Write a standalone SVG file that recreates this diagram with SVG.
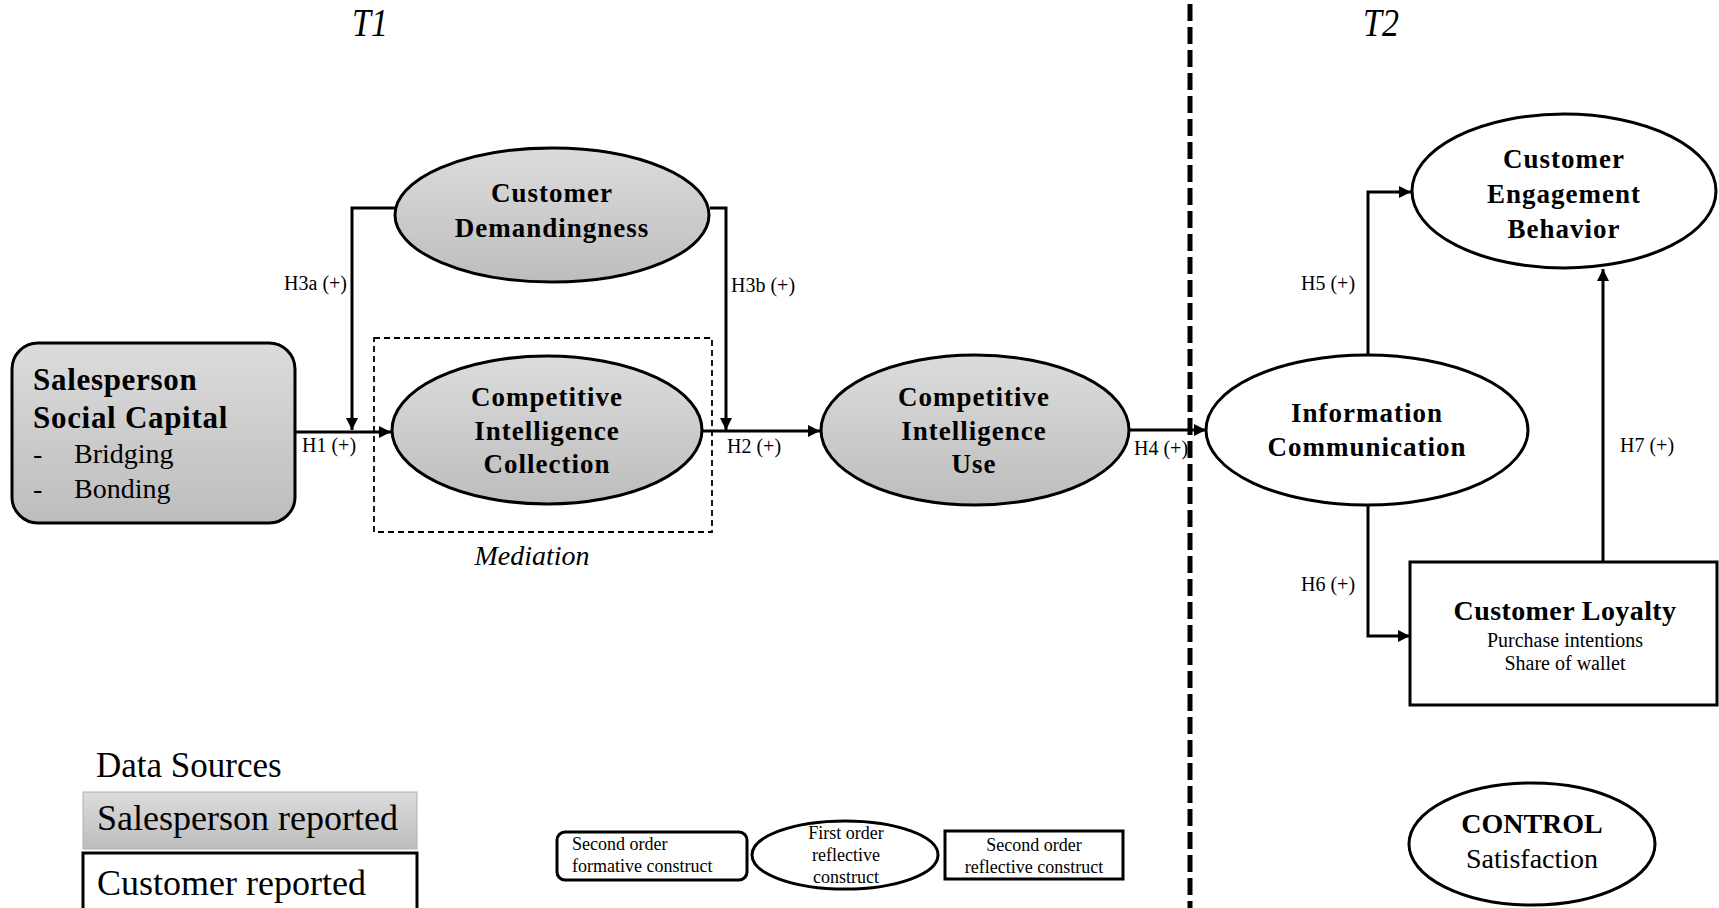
<svg xmlns="http://www.w3.org/2000/svg" width="1719" height="908" viewBox="0 0 1719 908">
<style>
text{font-family:"Liberation Serif","Times New Roman",serif;fill:#000}
.b{font-weight:bold;font-size:27px;text-anchor:middle;letter-spacing:1px}
.lab{font-size:20px}
.shape{stroke:#000;stroke-width:3}
.gray{fill:url(#g)}
.white{fill:#fff}
.conn{fill:none;stroke:#000;stroke-width:3}
.leg{font-size:18px}
</style>
<defs>
<linearGradient id="g" x1="0" y1="0" x2="0" y2="1">
<stop offset="0" stop-color="#dcdcdc"/>
<stop offset="1" stop-color="#bdbdbd"/>
</linearGradient>
<marker id="ah" viewBox="0 0 10 10" refX="10" refY="5" markerWidth="4" markerHeight="4" orient="auto" markerUnits="strokeWidth">
<path d="M0,0 L10,5 L0,10 z" fill="#000"/>
</marker>
</defs>

<g id="period-labels">
<text x="352" y="36" font-size="34" font-style="italic" transform="translate(0,-5) scale(1,1.15)">T1</text>
<text x="1363" y="36" font-size="34" font-style="italic" transform="translate(0,-5) scale(1,1.15)">T2</text>
</g>

<line id="time-divider" x1="1190" y1="4" x2="1190" y2="908" stroke="#000" stroke-width="5" stroke-dasharray="17 6"/>

<g id="mediation">
<rect x="374" y="338" width="338" height="194" fill="none" stroke="#000" stroke-width="1.8" stroke-dasharray="6 4"/>
<text x="532" y="565" font-size="28" font-style="italic" text-anchor="middle">Mediation</text>
</g>

<g id="connectors">
<path class="conn" d="M296,432 H391" marker-end="url(#ah)"/>
<path class="conn" d="M395,208 H352 V430" marker-end="url(#ah)"/>
<path class="conn" d="M710,208 H726 V430" marker-end="url(#ah)"/>
<path class="conn" d="M702,431 H820" marker-end="url(#ah)"/>
<path class="conn" d="M1129,430 H1206" marker-end="url(#ah)"/>
<path class="conn" d="M1368,355 V192 H1411" marker-end="url(#ah)"/>
<path class="conn" d="M1368,505 V636 H1410" marker-end="url(#ah)"/>
<path class="conn" d="M1603,561 V269" marker-end="url(#ah)"/>
<text class="lab" x="347" y="290" text-anchor="end">H3a (+)</text>
<text class="lab" x="731" y="292">H3b (+)</text>
<text class="lab" x="302" y="452">H1 (+)</text>
<text class="lab" x="727" y="453">H2 (+)</text>
<text class="lab" x="1134" y="455">H4 (+)</text>
<text class="lab" x="1301" y="290">H5 (+)</text>
<text class="lab" x="1301" y="591">H6 (+)</text>
<text class="lab" x="1620" y="452">H7 (+)</text>
</g>

<g id="salesperson-social-capital">
<rect class="shape gray" x="12" y="343" width="283" height="180" rx="26"/>
<text x="33" y="390" font-size="31" font-weight="bold" letter-spacing="0.7">Salesperson</text>
<text x="33" y="428" font-size="31" font-weight="bold" letter-spacing="0.7">Social Capital</text>
<text x="33" y="463" font-size="28">-</text>
<text x="74" y="463" font-size="28">Bridging</text>
<text x="33" y="498" font-size="28">-</text>
<text x="74" y="498" font-size="28">Bonding</text>
</g>

<g id="customer-demandingness">
<ellipse class="shape gray" cx="552" cy="215" rx="157" ry="67"/>
<text class="b" x="552" y="202">Customer</text>
<text class="b" x="552" y="237">Demandingness</text>
</g>

<g id="ci-collection">
<ellipse class="shape gray" cx="547" cy="430" rx="155" ry="74"/>
<text class="b" x="547" y="406">Competitive</text>
<text class="b" x="547" y="440">Intelligence</text>
<text class="b" x="547" y="473">Collection</text>
</g>

<g id="ci-use">
<ellipse class="shape gray" cx="975" cy="430" rx="154" ry="75"/>
<text class="b" x="974" y="406">Competitive</text>
<text class="b" x="974" y="440">Intelligence</text>
<text class="b" x="974" y="473">Use</text>
</g>

<g id="information-communication">
<ellipse class="shape white" cx="1367" cy="430" rx="161" ry="75"/>
<text class="b" x="1367" y="422">Information</text>
<text class="b" x="1367" y="456">Communication</text>
</g>

<g id="customer-engagement-behavior">
<ellipse class="shape white" cx="1564" cy="191" rx="152" ry="77"/>
<text class="b" x="1564" y="168">Customer</text>
<text class="b" x="1564" y="203">Engagement</text>
<text class="b" x="1564" y="238">Behavior</text>
</g>

<g id="customer-loyalty">
<rect class="shape white" x="1410" y="562" width="307" height="143"/>
<text x="1565" y="620" font-size="28" font-weight="bold" text-anchor="middle" letter-spacing="0.4">Customer Loyalty</text>
<text x="1565" y="647" font-size="20" text-anchor="middle">Purchase intentions</text>
<text x="1565" y="670" font-size="20" text-anchor="middle">Share of wallet</text>
</g>

<g id="control">
<ellipse class="shape white" cx="1532" cy="844" rx="123" ry="61"/>
<text x="1532" y="833" font-size="28" font-weight="bold" text-anchor="middle">CONTROL</text>
<text x="1532" y="868" font-size="28" text-anchor="middle">Satisfaction</text>
</g>

<g id="data-sources-legend">
<text x="96" y="777" font-size="35">Data Sources</text>
<rect x="83" y="792" width="334" height="57" fill="url(#g)" stroke="#b0b0b0" stroke-width="1"/>
<text x="97" y="830" font-size="36">Salesperson reported</text>
<rect x="83" y="853" width="334" height="70" fill="#fff" stroke="#000" stroke-width="3"/>
<text x="97" y="895" font-size="36">Customer reported</text>
</g>

<g id="construct-legend">
<rect x="557" y="832" width="190" height="48" rx="8" fill="#fff" stroke="#000" stroke-width="3"/>
<text class="leg" x="572" y="850">Second order</text>
<text class="leg" x="572" y="872">formative construct</text>
<ellipse cx="845" cy="855" rx="93" ry="34" fill="#fff" stroke="#000" stroke-width="3"/>
<text class="leg" x="846" y="839" text-anchor="middle">First order</text>
<text class="leg" x="846" y="861" text-anchor="middle">reflective</text>
<text class="leg" x="846" y="883" text-anchor="middle">construct</text>
<rect x="945" y="831" width="178" height="48" fill="#fff" stroke="#000" stroke-width="3"/>
<text class="leg" x="1034" y="851" text-anchor="middle">Second order</text>
<text class="leg" x="1034" y="873" text-anchor="middle">reflective construct</text>
</g>
</svg>
